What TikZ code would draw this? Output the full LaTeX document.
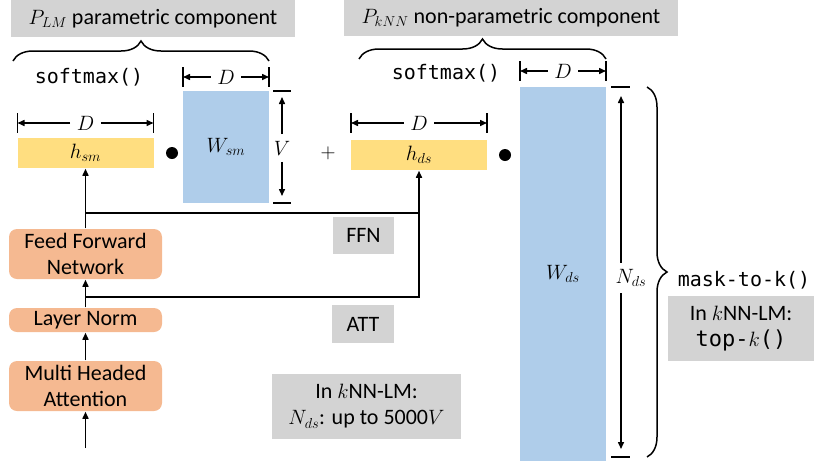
\documentclass[tikz,border=0pt]{standalone}
\usepackage{fontspec}
\setmainfont{Carlito}
\setmonofont{DejaVu Sans Mono}
\usetikzlibrary{arrows.meta, decorations.pathreplacing}
\usepackage{amsmath}
\definecolor{tagfill}{RGB}{211,211,211}
\definecolor{vecfill}{RGB}{255,222,128}
\definecolor{matfill}{RGB}{175,205,234}
\definecolor{layerfill}{RGB}{245,185,145}

\begin{document}
\begin{tikzpicture}[x=1pt,y=-1pt,line width=1.5pt,>={Triangle[length=7pt,width=6pt]},
  every node/.style={inner sep=0pt,font=\fontsize{22}{26}\selectfont},
  mono/.style={font=\fontsize{20}{24}\selectfont\ttfamily},
  tagbox/.style={fill=tagfill,align=center},
  vecbox/.style={fill=vecfill,minimum width=136,minimum height=30},
  matbox/.style={fill=matfill,minimum width=86},
  layer/.style={fill=layerfill,rounded corners=8pt,minimum width=153,align=center},
  dotmark/.style={circle,fill=black,minimum size=12pt},
  dimlabel/.style={inner sep=6pt},
  curly/.style={decorate,decoration={brace,amplitude=20pt}}]
  \useasboundingbox (0,0) rectangle (814,461);
  % headings
  \node[tagbox,minimum width=284,minimum height=37] (lmtag) at (153,18.5) {$P_{LM}$ parametric component};
  \node[tagbox,minimum width=334,minimum height=36] (knntag) at (511,18) {$P_{kNN}$ non-parametric component};
  \draw[curly] (13,61) -- (269,61);
  \draw[curly] (359,59) -- (606,59);
  \node[mono] (smx1) at (89,77) {softmax()};
  \node[mono] (smx2) at (446,73) {softmax()};
  % vectors and matrices
  \node[vecbox] (hsm) at (85.5,153) {$h_{sm}$};
  \node[dotmark] (dot1) at (172,153) {};
  \node[matbox,minimum height=112] (wsm) at (226,147) {$W_{sm}$};
  \node (plus) at (328,153) {$+$};
  \node[vecbox] (hds) at (419,155) {$h_{ds}$};
  \node[dotmark] (dot2) at (505,155) {};
  \node[matbox,minimum height=374] (wds) at (563,274) {$W_{ds}$};
  % D widths
  \foreach \n/\a/\b/\y in {hs/17.5/153.5/123, ws/183/269/77, hd/351/487/123, wd/520/606/71} {
    \node[dimlabel] (dim\n) at ({(\a+\b)/2},\y) {$D$};
    \coordinate (dim\n-l) at (\a,\y);
    \coordinate (dim\n-r) at (\b,\y);
    \draw[->] (dim\n) -- (dim\n-l);
    \draw[->] (dim\n) -- (dim\n-r);
    \draw (\a,\y-10) -- (\a,\y+10) (\b,\y-10) -- (\b,\y+10);
  }
  % V and N_ds heights
  \draw (273,91) -- (291,91) (273,203) -- (291,203);
  \node[dimlabel] (vdim) at (282,148) {$V$};
  \coordinate (vtop) at (282,97);
  \coordinate (vbot) at (282,196);
  \draw[->] (vdim) -- (vtop);
  \draw[->] (vdim) -- (vbot);
  \draw (611,87) -- (630,87) (611,457) -- (630,457);
  \node[dimlabel] (ndim) at (631,278) {$N_{ds}$};
  \coordinate (ntop) at (621,96);
  \coordinate (nbot) at (621,449);
  \draw[->] (ndim.north -| ntop) -- (ntop);
  \draw[->] (ndim.south -| nbot) -- (nbot);
  \draw[curly] (647,87) -- (647,457);
  \node[mono] (mask) at (744,280) {mask-to-k()};
  \node[tagbox,minimum width=146,minimum height=65] (topk) at (741,328.5) {In $k$NN-LM:\\\texttt{top-}$k$\texttt{()}};
  % transformer block
  \node[layer,minimum height=50] (ffn) at (85.5,254) {Feed Forward\\Network};
  \node[layer,minimum height=24] (ln) at (85.5,320) {Layer Norm};
  \node[layer,minimum height=50] (mha) at (85.5,386) {Multi Headed\\Attention};
  \coordinate (input) at (85.5,448);
  \coordinate (ffntap) at (85.5,213);
  \coordinate (ffnjoin) at (419,213);
  \coordinate (atttap) at (85.5,297);
  \draw[->] (input) -- (mha);
  \draw[->] (mha) -- (ln);
  \draw[->] (ln) -- (ffn);
  \draw[->] (ffn) -- (hsm);
  \draw (ffntap) -- (ffnjoin);
  \draw[->] (atttap) -| (hds.south);
  \node[tagbox,minimum width=61,minimum height=37] (ffntag) at (363.5,235.5) {FFN};
  \node[tagbox,minimum width=62,minimum height=38] (atttag) at (363,324) {ATT};
  \node[tagbox,minimum width=189,minimum height=65] (ndsnote) at (366.5,406.5) {In $k$NN-LM:\\$N_{ds}$: up to 5000$V$};
\end{tikzpicture}
\end{document}
